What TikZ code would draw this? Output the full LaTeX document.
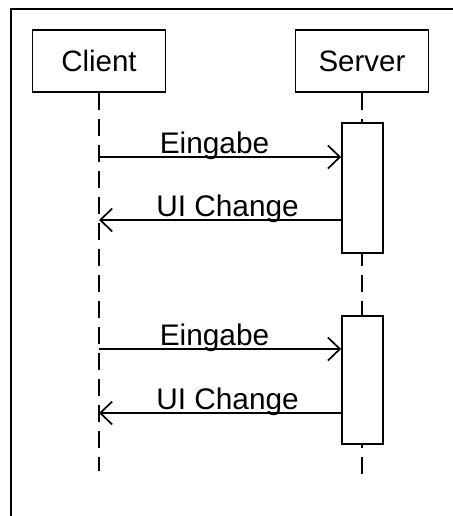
\documentclass[tikz,border=0pt]{standalone}
\usepackage{fontspec}
\setmainfont{Liberation Sans}
\usetikzlibrary{positioning,arrows.meta}
\tikzset{
	actor/.style={draw, line width=1.7pt, minimum width=133pt, minimum height=62pt, inner sep=0pt, font=\fontsize{29.5}{31}\selectfont},
	lifeline/.style={line width=1.7pt, dash pattern=on 17pt off 9pt},
	activation/.style={draw, fill=white, line width=1.7pt, minimum width=41pt, inner sep=0pt},
	msg/.style={line width=1.7pt, -{Straight Barb[length=12pt,width=23pt,line width=1.7pt]}},
	msglabel/.style={anchor=base, yshift=4pt, inner sep=0pt, font=\fontsize{29.8}{31}\selectfont}
}
\begin{document}
\begin{tikzpicture}[x=1pt, y=-1pt]
	\useasboundingbox (0,0) rectangle (452,516);
	\draw[line width=1.8pt] (11,530) -- (11,9) -- (470,9);
	
	\node[actor] (client) at (99,61) {Client};
	\node[actor] (server) at (362,61) {Server};
	
	\draw[lifeline] (client.south) -- ++(0,378) coordinate (clientend);
	\draw[lifeline] (server.south) -- ++(0,387) coordinate (serverend);
	
	\node[activation, minimum height=130pt] (act1) at (362.5,188) {};
	\node[activation, minimum height=128pt] (act2) at (362.5,380) {};
	
	\coordinate (in1) at (client.south |- 0,157);
	\coordinate (out1) at (client.south |- 0,220);
	\coordinate (in2) at (client.south |- 0,349);
	\coordinate (out2) at (client.south |- 0,413);
	
	\draw[msg] (in1) -- node[msglabel, pos=.477]{Eingabe} (in1 -| act1.west);
	\draw[msg] (out1 -| act1.west) -- node[msglabel, pos=.469]{UI Change} (out1);
	\draw[msg] (in2) -- node[msglabel, pos=.477]{Eingabe} (in2 -| act2.west);
	\draw[msg] (out2 -| act2.west) -- node[msglabel, pos=.469]{UI Change} (out2);
\end{tikzpicture}
\end{document}
